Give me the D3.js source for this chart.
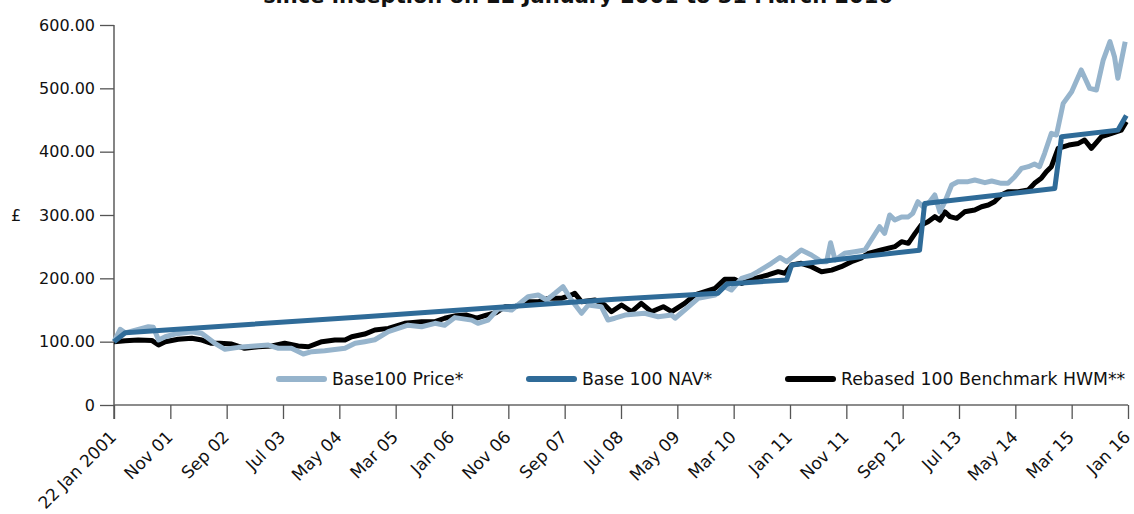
<!DOCTYPE html>
<html>
<head>
<meta charset="utf-8">
<script src="https://cdn.jsdelivr.net/npm/d3@7"></script>
<style>
  body { margin: 0; background: #fff; }
  text { font-family: "DejaVu Sans", sans-serif; fill: #111; }
</style>
</head>
<body>
<div id="chart"></div>
<script>
// Months since launch (22 Jan 2001) and values
const priceMonths = [0, 1.1, 2.0, 4.3, 6.1, 7.0, 7.9, 9.1, 10.8, 13.8, 15.6, 17.9, 19.7, 22.1, 25.0, 27.4, 29.2, 31.5, 33.6, 35.1,
  37.4, 41.0, 42.8, 44.5, 46.3, 48.7, 52.2, 54.6, 57.0, 58.7, 60.5, 63.5, 64.6, 66.4, 68.2, 70.6, 73.5, 75.3, 76.8, 78.3,
  79.7, 81.2, 83.0, 84.2, 86.5, 87.7, 88.9, 90.7, 94.2, 96.6, 99.0, 99.6, 101.3, 103.7, 106.7, 108.4, 109.6, 111.4, 113.2, 114.3,
  116.7, 118.2, 119.4, 122.0, 123.8, 125.6, 126.5, 127.2, 128.0, 129.7, 131.5, 133.3, 135.9, 136.8, 137.7, 138.6, 139.8, 141.0, 141.8, 142.7,
  143.6, 144.8, 145.7, 146.6, 147.5, 148.7, 149.8, 151.6, 152.8, 154.6, 155.8, 157.5, 158.7, 159.9, 161.1, 162.3, 163.4, 164.3, 165.2, 166.4,
  167.3, 168.5, 170.0, 171.7, 173.2, 174.4, 175.6, 176.8, 177.6, 178.2, 179.5];
const priceValues = [100, 119.5, 114, 119.5, 123.6, 122.6, 102.6, 107.8, 112, 115.7, 113, 97.4, 87.9, 91, 93, 94.7, 89.5, 89.5, 80.5, 84.2,
  85.8, 89.5, 97.4, 100, 103, 115.7, 126, 123.6, 129, 126, 138, 134, 129, 134, 152, 150, 171, 173.7, 165.8, 176.4,
  186.8, 165.8, 144.8, 157.9, 155.2, 134.2, 137, 142, 144.8, 139.4, 142, 137, 150, 168.5, 173.7, 186.8, 181.6, 200, 205, 210.5,
  223.7, 233, 226.3, 244.7, 236.8, 226.3, 226.3, 256.3, 229, 239.5, 242, 244.7, 281.5, 271, 300, 292, 297, 297, 302.6, 321,
  313, 321, 331.6, 305, 321, 347.4, 352.6, 352.6, 355.3, 351, 353.7, 350, 350, 360.5, 373.7, 376.3, 380.5, 376.3, 397.4, 429,
  426.3, 476.3, 494.7, 529, 500, 497.4, 544.7, 573.7, 550, 515.8, 573.7];

const navMonths = [0, 2.0, 44.5, 88.9, 107.2, 108.8, 119.4, 120.3, 131.5, 143.0, 143.9, 167.0, 168.2, 178.2, 179.7];
const navValues = [100, 114, 139.5, 166.8, 176.5, 191, 197.5, 221, 233, 244.5, 318, 342, 423.7, 434, 457];

const benchMonths = [0, 2.0, 4.3, 6.7, 7.9, 9.1, 11.4, 13.8, 15.6, 17.3, 18.8, 20.9, 23.2, 25.6, 28.0, 30.3, 32.7, 34.5, 36.9, 39.2,
  41.0, 42.2, 44.5, 46.3, 48.7, 51.6, 54.6, 57.0, 58.7, 60.7, 62.6, 64.4, 66.1, 67.9, 69.4, 71.2, 73.5, 75.3, 77.1, 79.4,
  81.2, 81.8, 83.0, 85.4, 87.1, 88.3, 90.1, 91.9, 93.6, 95.4, 97.5, 99.0, 101.3, 103.1, 104.9, 106.7, 108.4, 110.2, 111.4, 113.8,
  116.1, 117.9, 119.1, 120.3, 122.0, 123.8, 125.6, 127.4, 129.1, 130.9, 132.6, 133.9, 136.2, 138.6, 139.8, 141.0, 142.2, 143.3, 144.5, 145.7,
  146.6, 147.5, 148.4, 149.6, 151.0, 152.8, 154.0, 155.2, 156.3, 157.5, 158.7, 160.5, 162.3, 163.4, 164.6, 165.5, 166.4, 167.6, 169.5, 171.2,
  172.3, 173.5, 175.3, 177.1, 178.8, 179.7];
const benchValues = [100, 101.6, 102.6, 102, 94.7, 100, 103.7, 105.3, 102.6, 97.4, 97.4, 96.3, 89.5, 92.1, 93.1, 97.4, 93.1, 92, 100, 102.6,
  102.6, 107.8, 112, 118.4, 121, 129, 131.5, 131.5, 137, 141, 142, 137, 142, 146, 155.2, 155.2, 163, 163, 168.5, 168.5,
  173.7, 176.3, 163, 165.8, 157.9, 147.3, 157.9, 147.3, 160.5, 147.3, 155.2, 147.3, 160.5, 173.7, 178.9, 184.2, 198.4, 198.4, 192, 200,
  205.3, 210.5, 208, 221, 223.7, 218.4, 210.5, 213, 218.4, 226.3, 232, 239.5, 244.7, 250, 257.9, 255.3, 271, 284.2, 289.5, 297.4,
  292, 305, 297.4, 294.7, 305, 307.9, 313, 315.8, 321, 331.6, 336.8, 336.8, 339.5, 350, 357.9, 368.4, 376.3, 405.3, 410.5, 413,
  418.4, 405.3, 423.7, 429, 434, 447.4];

const tickMonths = d3.range(0, 181, 10);
const tickLabels = ["22 Jan 2001", "Nov 01", "Sep 02", "Jul 03", "May 04", "Mar 05", "Jan 06", "Nov 06", "Sep 07", "Jul 08",
  "May 09", "Mar 10", "Jan 11", "Nov 11", "Sep 12", "Jul 13", "May 14", "Mar 15", "Jan 16"];
const yTicks = [0, 100, 200, 300, 400, 500, 600];

const seriesNames = ["Base100 Price*", "Base 100 NAV*", "Rebased 100 Benchmark HWM**"];
const seriesColors = ["#96b4cc", "#2f6b98", "#000000"];

const W = 1134, H = 514;
const margin = { top: 25, left: 114 },
      width = 1014,
      height = 380;

const svg = d3.select("#chart").append("svg")
  .attr("width", W)
  .attr("height", H);

// title is clipped off the top in the original
svg.append("text")
  .attr("x", 578)
  .attr("y", 3)
  .attr("text-anchor", "middle")
  .style("font-size", "21px")
  .style("font-weight", "bold")
  .text("since inception on 22 January 2001 to 31 March 2016");

const g = svg.append("g")
  .attr("transform", `translate(${margin.left},${margin.top})`);

const x = d3.scaleLinear().domain([0, 180]).range([0, width]);
const y = d3.scaleLinear().domain([0, 600]).range([height, 0]);

// axes
const yAxis = g.append("g")
  .call(d3.axisLeft(y).tickValues(yTicks).tickSize(14).tickPadding(5)
    .tickFormat(d => d === 0 ? "0" : d.toFixed(2)));
yAxis.select(".domain").attr("d", `M0,0V${height + 14}`);

const xAxis = g.append("g")
  .attr("transform", `translate(0,${height})`)
  .call(d3.axisBottom(x).tickValues(tickMonths).tickSize(14).tickSizeOuter(0)
    .tickFormat((d, i) => tickLabels[i]));
xAxis.select(".domain").attr("d", `M0,0H${width}`);

g.selectAll(".domain").attr("stroke", "#666").attr("stroke-width", 1.6);
g.selectAll(".tick line").attr("stroke", "#555").attr("stroke-width", 1.3);
g.selectAll(".tick text").style("font-size", "16px").style("font-family", "DejaVu Sans, sans-serif").attr("fill", "#111");

xAxis.selectAll(".tick text")
  .style("font-size", "17px")
  .attr("text-anchor", "end")
  .attr("y", 0)
  .attr("dy", 0)
  .attr("transform", "translate(3,33) rotate(-45)");

svg.append("text")
  .attr("x", 16)
  .attr("y", 221)
  .attr("text-anchor", "middle")
  .style("font-size", "16px")
  .text("£");

// lines
const line = d3.line()
  .x(d => x(d[0]))
  .y(d => y(d[1]));

const series = [
  { months: benchMonths, values: benchValues, color: seriesColors[2] },
  { months: priceMonths, values: priceValues, color: seriesColors[0] },
  { months: navMonths, values: navValues, color: seriesColors[1] }
];

series.forEach(s => {
  g.append("path")
    .datum(s.months.map((m, i) => [m, s.values[i]]))
    .attr("fill", "none")
    .attr("stroke", s.color)
    .attr("stroke-width", 5)
    .attr("stroke-linejoin", "round")
    .attr("d", line);
});

// legend
const legendX = [276, 526, 785];
const legend = svg.append("g");
seriesNames.forEach((name, i) => {
  legend.append("line")
    .attr("x1", legendX[i] + 3).attr("x2", legendX[i] + 48)
    .attr("y1", 379).attr("y2", 379)
    .attr("stroke", seriesColors[i])
    .attr("stroke-width", 6)
    .attr("stroke-linecap", "round");
  legend.append("text")
    .attr("x", legendX[i] + 56)
    .attr("y", 385)
    .style("font-size", "17.3px")
    .text(name);
});
</script>
</body>
</html>
